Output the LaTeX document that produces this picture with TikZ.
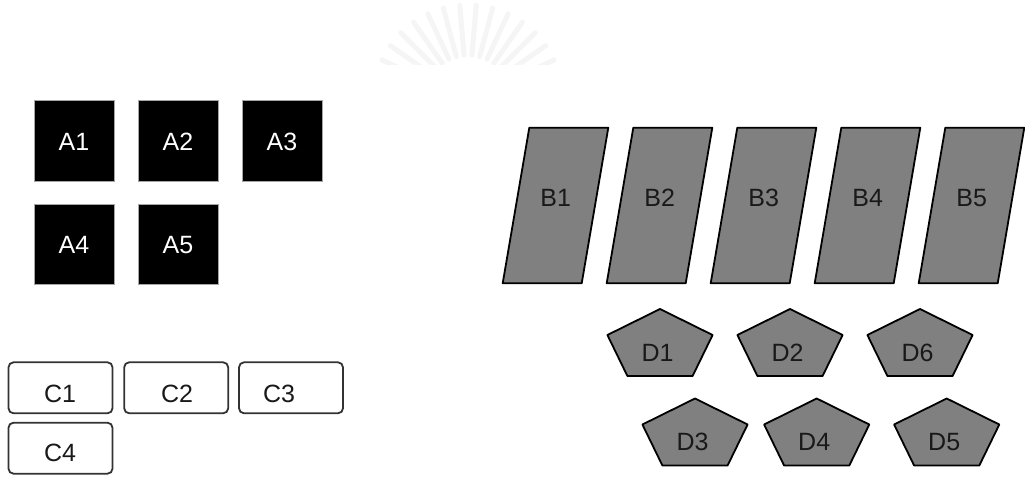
\documentclass[tikz,border=0pt]{standalone}
\usepackage{fontspec}
\setmainfont{Liberation Sans}
\begin{document}
\begin{tikzpicture}[x=1pt,y=-1pt,
  every node/.style={font=\fontsize{25}{29}\selectfont, inner sep=0pt},
  abox/.style={draw=gray!70, line width=1pt, fill=black, text=white, minimum width=80pt, minimum height=80pt, text height=18pt, text depth=0pt},
  bshape/.style={draw=black, line width=1.8pt, fill=gray, line join=round},
  cbox/.style={draw=black!80, line width=1.8pt, fill=white, rounded corners=5pt, minimum width=104pt, minimum height=51pt},
  dshape/.style={draw=black, line width=1.8pt, fill=gray, line join=round},
  lab/.style={text=black!90, text height=18pt, text depth=0pt},
  ray/.style={draw=black!4, line width=5pt, line cap=round}]
\useasboundingbox (0,0) rectangle (1025,484);
% faint watermark
\begin{scope}
\clip (370,0) rectangle (580,65);
\coordinate (wc) at (468,100);
\foreach \a in {25,35,...,155} {
  \draw[ray] (wc) ++(\a:45pt) -- ++(\a:50pt);
}
\end{scope}
% A boxes
\node[abox] (A1) at (74,141) {A1};
\node[abox] (A2) at (178,141) {A2};
\node[abox] (A3) at (282,141) {A3};
\node[abox] (A4) at (74,244.5) {A4};
\node[abox] (A5) at (178,244.5) {A5};
% B parallelograms
\foreach \i in {1,...,5} {
  \pgfmathsetmacro{\tl}{529.3+104*(\i-1)}
  \draw[bshape] (\tl,127.7) -- ++(79,0) -- ++(-26.6,155.6) -- ++(-79,0) -- cycle;
  \node[lab] (B\i) at ({\tl+26.4},197) {B\i};
}
% C boxes
\node[cbox] (C1) at (60.5,387.8) {};
\node[cbox] (C2) at (176.2,387.8) {};
\node[cbox] (C3) at (291,387.8) {};
\node[cbox] (C4) at (60.5,448.2) {};
\node[lab] (C1t) at (60,393) {C1};
\node[lab] (C2t) at (177,393) {C2};
\node[lab] (C3t) at (279,393) {C3};
\node[lab] (C4t) at (60,452) {C4};
% D pentagons
\foreach \c/\t/\n in {660/309/D1, 790/309/D2, 920/309/D6, 695/398.5/D3, 816.7/398.5/D4, 946.7/398.5/D5} {
  \draw[dshape] (\c,\t) -- (\c+52.6,\t+26) -- (\c+32.6,\t+67) -- (\c-32.6,\t+67) -- (\c-52.6,\t+26) -- cycle;
  \node[lab] (\n) at (\c-2.5,\t+43) {\n};
}
\end{tikzpicture}
\end{document}
